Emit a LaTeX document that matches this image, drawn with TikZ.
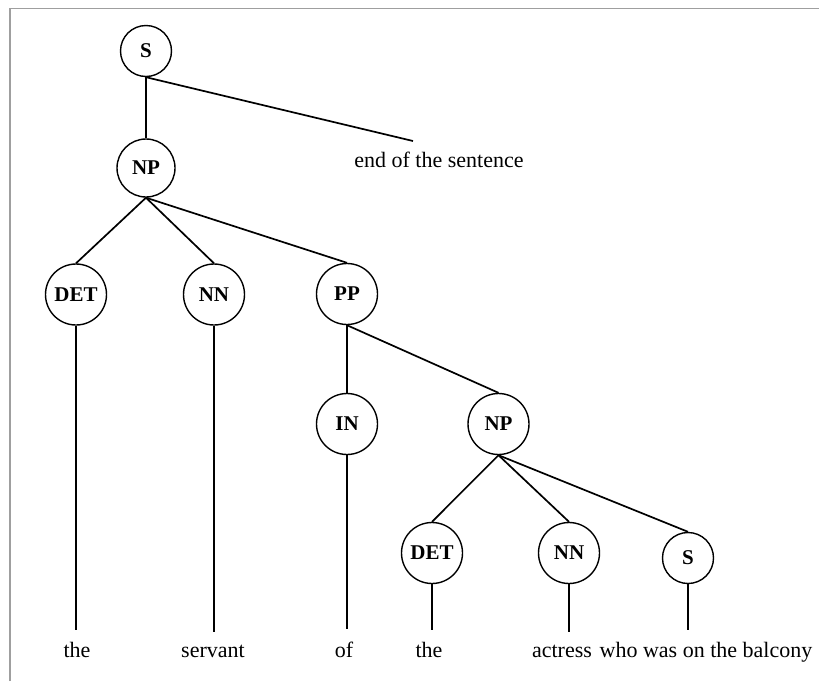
\documentclass[tikz,border=0pt]{standalone}
\usepackage{fontspec}
\setmainfont{Liberation Serif}
\begin{document}
\begin{tikzpicture}[x=1pt,y=-1pt,
  cat/.style={circle,draw=black,line width=1.4pt,minimum size=61pt,inner sep=0pt,
    font=\fontsize{21}{25}\selectfont\bfseries},
  catsmall/.style={cat,minimum size=51pt},
  word/.style={anchor=base,inner xsep=0pt,inner ysep=12pt,font=\fontsize{22}{26}\selectfont},
  branch/.style={line width=1.7pt,black}]
\useasboundingbox (0,0) rectangle (819,681);
% page frame
\draw[gray!75,line width=1.8pt] (10,681) -- (10,8.5) -- (819,8.5);

% category nodes
\node[catsmall] (s)    at (146,51) {S};
\node[cat,minimum size=58pt] (np) at (146,168) {NP};
\node[cat] (det)  at (76,294.5)  {DET};
\node[cat] (nn)   at (214,294.5) {NN};
\node[cat] (pp)   at (347,294) {PP};
\node[cat] (in)   at (347,424)   {IN};
\node[cat] (np2)  at (498.5,424) {NP};
\node[cat] (det2) at (432,553)   {DET};
\node[cat] (nn2)  at (569,553)   {NN};
\node[catsmall] (s2) at (688,558) {S};

% words
\node[word] (w1) at (77,657)  {the};
\node[word] (w2) at (213,657) {servant};
\node[word] (w3) at (344,657) {of};
\node[word] (w4) at (429,657) {the};
\node[word] (w5) at (562,657) {actress};
\node[word] (w6) at (706,657) {who was on the balcony};
\node[word,inner ysep=0pt] (eos) at (439,167) {end of the sentence};
\coordinate (eosend) at (413,141);

% branches
\draw[branch] (s.south) -- (np.north);
\draw[branch] (s.south) -- (eosend);
\draw[branch] (np.south) -- (det.north);
\draw[branch] (np.south) -- (nn.north);
\draw[branch] (np.south) -- (pp.north);
\draw[branch] (pp.south) -- (in.north);
\draw[branch] (pp.south) -- (np2.north);
\draw[branch] (np2.south) -- (det2.north);
\draw[branch] (np2.south) -- (nn2.north);
\draw[branch] (np2.south) -- (s2.north);

% leaves
\draw[branch] (det.south) -- (det.south |- w1.north);
\draw[branch] (nn.south) -- (nn.south |- w2.north);
\draw[branch] (in.south) -- (in.south |- w3.north);
\draw[branch] (det2.south) -- (det2.south |- w4.north);
\draw[branch] (nn2.south) -- (nn2.south |- w5.north);
\draw[branch] (s2.south) -- (s2.south |- w6.north);
\end{tikzpicture}
\end{document}
